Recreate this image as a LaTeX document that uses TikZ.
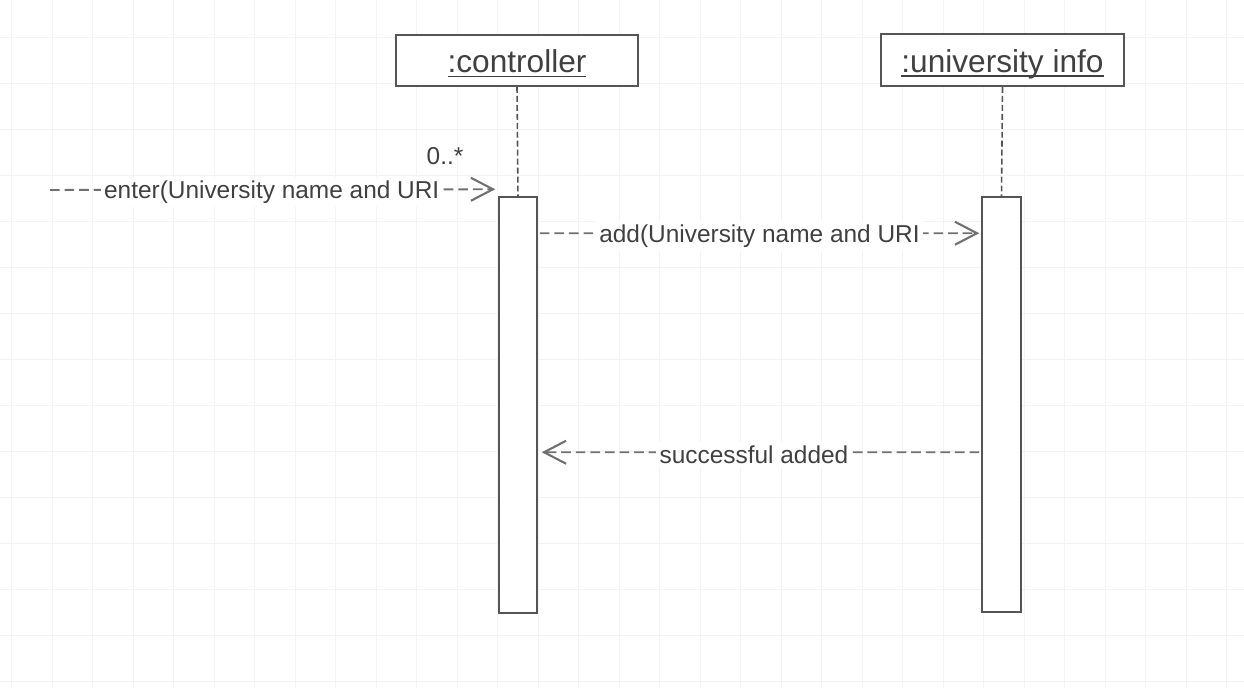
\documentclass[tikz,border=0pt]{standalone}
\usepackage{fontspec}
\setmainfont{Liberation Sans}
\usetikzlibrary{arrows.meta,calc}

\definecolor{inkgray}{HTML}{404040}
\definecolor{linegray}{HTML}{555555}
\definecolor{msggray}{HTML}{707070}
\definecolor{gridgray}{HTML}{F3F3F3}

% object name underlined at a fixed depth below the baseline
\newcommand\objname[1]{\setbox0\hbox{#1}\rlap{\rule[-2.6pt]{\wd0}{0.8pt}}\box0}

\tikzset{
  object/.style={draw=linegray, line width=1.1pt, fill=white, text=inkgray,
    font=\fontsize{18}{22}\selectfont, inner sep=0pt, text height=16.5pt, text depth=2.5pt},
  activation/.style={draw=linegray, line width=0.9pt, fill=white, inner sep=0pt},
  lifeline/.style={draw=linegray, line width=0.9pt, dash pattern=on 3.4pt off 1.7pt},
  message/.style={draw=msggray, line width=1.1pt, dash pattern=on 5.5pt off 2.8pt,
    -{Straight Barb[length=4.4mm,width=4.6mm,line width=1.2pt]}},
  msglabel/.style={fill=white, text=inkgray, inner sep=2pt, yshift=-1.5pt,
    font=\fontsize{13.9}{16}\selectfont},
  multiplicity/.style={text=inkgray, inner sep=0pt, font=\fontsize{13.9}{16}\selectfont}
}

\begin{document}
\begin{tikzpicture}[x=0.02cm, y=-0.02cm]
  % page frame
  \useasboundingbox (0,0) rectangle (1244,688);
  \fill[white] (0,0) rectangle (1244,688);

  % faint background grid
  \foreach \gx in {11.5,52,...,1244} \draw[gridgray, line width=0.5pt] (\gx,0) -- (\gx,688);
  \foreach \gy in {37,83,...,688} \draw[gridgray, line width=0.5pt] (0,\gy) -- (1244,\gy);

  % objects
  \node[object, minimum width=4.84cm, minimum height=1.02cm] (ctrl) at (517,60.5) {\objname{:controller}};
  \node[object, minimum width=4.86cm, minimum height=1.04cm] (univ) at (1002.5,60) {\objname{:university info}};

  % activation bars
  \node[activation, minimum width=0.76cm, minimum height=8.32cm] (ctrlAct) at (518,405) {};
  \node[activation, minimum width=0.78cm, minimum height=8.30cm] (univAct) at (1001.5,404.5) {};

  % lifelines
  \draw[lifeline] (ctrl.south) -- (ctrlAct.north);
  \draw[lifeline] (univ.south) -- (univAct.north);

  % incoming message
  \coordinate (enterStart) at (50,190);
  \coordinate (enterEnd) at ($(ctrlAct.north west)+(-3,-7)$);
  \draw[message] (enterStart) -- node[msglabel, pos=0.498] (enterLbl) {enter(University name and URI} (enterEnd);
  \node[multiplicity] (mult) at (445,156) {0..*};

  % call to university info
  \coordinate (addStart) at ($(ctrlAct.north east)+(2,37)$);
  \coordinate (addEnd) at ($(univAct.north west)+(-2,37)$);
  \draw[message] (addStart) -- node[msglabel, pos=0.5] (addLbl) {add(University name and URI} (addEnd);

  % reply
  \coordinate (retStart) at ($(univAct.north west)+(-2,256)$);
  \coordinate (retEnd) at ($(ctrlAct.north east)+(4,256)$);
  \draw[message] (retStart) -- node[msglabel, pos=0.515] (retLbl) {successful added} (retEnd);
\end{tikzpicture}
\end{document}
